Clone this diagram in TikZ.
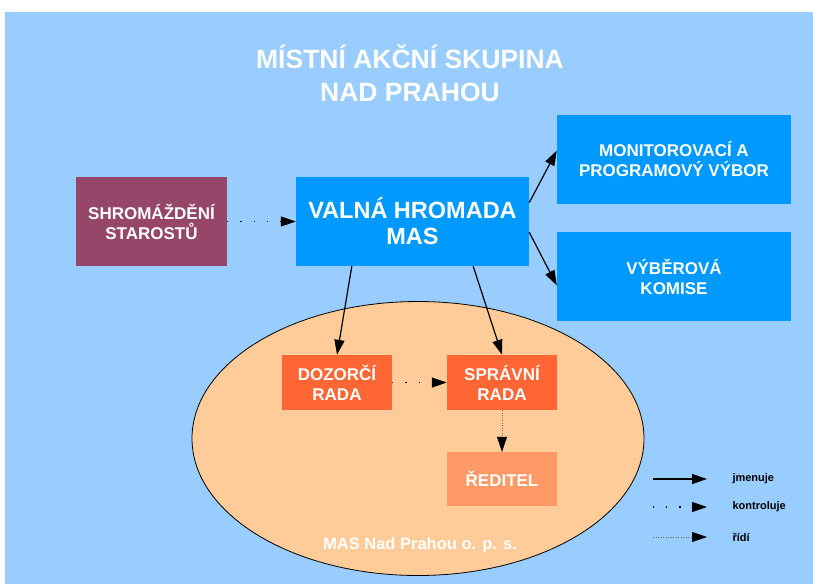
\documentclass[tikz,border=0pt]{standalone}
\usepackage{fontspec}
\setmainfont{Liberation Sans}
\usetikzlibrary{calc, arrows.meta}

\definecolor{bgblue}{HTML}{99CCFF}
\definecolor{boxblue}{HTML}{0099FF}
\definecolor{plum}{RGB}{150,70,105}
\definecolor{redorange}{HTML}{FF6633}
\definecolor{lightorange}{HTML}{FF9966}
\definecolor{peach}{HTML}{FFCC99}

\begin{document}
\begin{tikzpicture}
      [
        x=1pt, y=-1pt,
        box/.style={inner sep=0pt, align=center, text=white,
          font=\bfseries\fontsize{17}{20}\selectfont},
        bigbox/.style={box, minimum width=234pt, minimum height=89pt},
        smallbox/.style={box, minimum width=110pt, minimum height=55pt},
        appoints/.style={line width=1.2pt, -{Triangle[length=15pt,width=10pt]}},
        checks/.style={line width=1.2pt, dash pattern=on 1.2pt off 12pt,
          -{Triangle[length=15pt,width=10pt]}},
        manages/.style={line width=0.6pt, black!60, dash pattern=on 1pt off 1.5pt,
          -{Triangle[length=15pt,width=10pt,color=black]}},
        legend/.style={anchor=west, font=\bfseries\fontsize{11}{13}\selectfont}
      ]
      \useasboundingbox (0,0) rectangle (813,584);
      \fill[bgblue] (5,12) rectangle (813,584);
      % title
      \node [align=center, text=white, font=\bfseries\fontsize{26.5}{33}\selectfont]
        (title) at (410,73) {MÍSTNÍ AKČNÍ SKUPINA\\NAD PRAHOU};
      % o. p. s.
      \draw [fill=peach, line width=0.8pt] (418,438.5) ellipse [x radius=226pt, y radius=137pt];
      \node [text=white, font=\bfseries\fontsize{16.5}{20}\selectfont]
        (ops) at (420,545) {MAS Nad Prahou o. p. s.};
      % boxes
      \node [box, fill=plum, minimum width=151pt, minimum height=89pt]
        (starostove) at (151.5,221.5) {SHROMÁŽDĚNÍ\\STAROSTŮ};
      \node [bigbox, fill=boxblue, minimum width=233pt,
        font=\bfseries\fontsize{23.5}{26}\selectfont]
        (valna) at (412.5,221.5) {VALNÁ HROMADA\\MAS};
      \node [bigbox, fill=boxblue] (monitor) at (674,159.5)
        {MONITOROVACÍ A\\PROGRAMOVÝ VÝBOR};
      \node [bigbox, fill=boxblue] (vyber) at (674,276.5) {VÝBĚROVÁ\\KOMISE};
      \node [smallbox, fill=redorange] (dozor) at (337,382.5) {DOZORČÍ\\RADA};
      \node [smallbox, fill=redorange] (spravni) at (502,382.5) {SPRÁVNÍ\\RADA};
      \node [smallbox, fill=lightorange, minimum height=54pt] (reditel) at (502,479) {ŘEDITEL};
      % arrows
      \draw [checks] (starostove.east) -- (valna.west);
      \draw [appoints] ($(valna.north east)!0.29!(valna.south east)$)
        -- ($(monitor.north west)!0.4!(monitor.south west)$);
      \draw [appoints] ($(valna.north east)!0.62!(valna.south east)$)
        -- ($(vyber.north west)!0.6!(vyber.south west)$);
      \draw [appoints] ($(valna.south west)!0.24!(valna.south east)$) -- (dozor.north);
      \draw [appoints] ($(valna.south west)!0.76!(valna.south east)$) -- (spravni.north);
      \draw [checks] (dozor.east) -- (spravni.west);
      \draw [manages] (spravni.south) -- (reditel.north);
      % legend
      \coordinate (jm0) at (653,479);
      \coordinate (jm1) at (707,479);
      \coordinate (ko0) at (653,507);
      \coordinate (ko1) at (707,507);
      \coordinate (ri0) at (653,537);
      \coordinate (ri1) at (707,537);
      \draw [appoints] (jm0) -- (jm1);
      \draw [checks] (ko0) -- (ko1);
      \draw [manages] (ri0) -- (ri1);
      \node [legend] (jmenuje) at (729,479) {jmenuje};
      \node [legend] (kontroluje) at (729,507) {kontroluje};
      \node [legend] (ridi) at (729,537) {řídí};
\end{tikzpicture}
\end{document}
